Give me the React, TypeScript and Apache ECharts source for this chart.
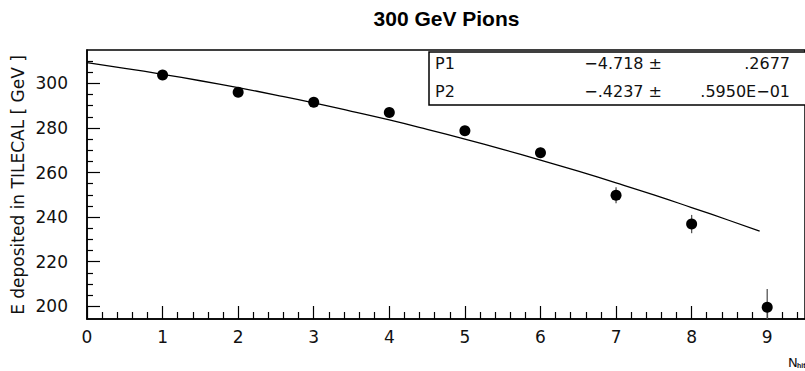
import React, { useEffect, useRef } from "react";
import * as echarts from "echarts";

// Measured points (N_hit, energy in GeV) and their errors
const pointX = [1, 2, 3, 4, 5, 6, 7, 8, 9];
const pointY = [303.8, 296.0, 291.6, 287.0, 278.8, 268.9, 249.8, 236.9, 199.6];
const pointErr = [1.6, 1.7, 1.8, 1.9, 2.0, 2.2, 3.6, 4.1, 8.2];

// Fitted curve
const fitX = [0, 0.5, 1, 1.5, 2, 2.5, 3, 3.5, 4, 4.5, 5, 5.5, 6, 6.5, 7, 7.5, 8, 8.5, 8.9];
const fitY = [309.3, 306.8, 304.1, 301.2, 298.1, 294.8, 291.3, 287.5, 283.6, 279.4, 275.0, 270.4, 265.6, 260.6, 255.4, 250.0, 244.3, 238.5, 233.7];

// Axis ticks
const xMajorTicks = [0, 1, 2, 3, 4, 5, 6, 7, 8, 9];
const xMinorTicks = [0.2, 0.4, 0.6, 0.8, 1.2, 1.4, 1.6, 1.8, 2.2, 2.4, 2.6, 2.8, 3.2, 3.4, 3.6, 3.8, 4.2, 4.4, 4.6, 4.8, 5.2, 5.4, 5.6, 5.8, 6.2, 6.4, 6.6, 6.8, 7.2, 7.4, 7.6, 7.8, 8.2, 8.4, 8.6, 8.8, 9.2, 9.4];
const yMajorTicks = [200, 220, 240, 260, 280, 300];
const yMinorTicks = [205, 210, 215, 225, 230, 235, 245, 250, 255, 265, 270, 275, 285, 290, 295, 305, 310];

const X_MIN = 0;
const X_MAX = 9.5;
const Y_MIN = 194.3;
const Y_MAX = 315;

// Fit parameters
const statNames = ["P1", "P2"];
const statValues = ["\u22124.718 \u00b1", "\u2212.4237 \u00b1"];
const statErrors = [".2677", ".5950E\u221201"];

const TITLE = "300 GeV Pions";
const Y_NAME = "E deposited in TILECAL [ GeV ]";

const NUM_FONT = "DejaVu Sans";

export default function App() {
  const ref = useRef<HTMLDivElement>(null);

  useEffect(() => {
    if (!ref.current) return;
    const chart = echarts.init(ref.current, undefined, { renderer: "svg" });

    const statGraphics: any[] = [];
    statNames.forEach((n, i) => {
      const cy = 63.5 + i * 28.3;
      statGraphics.push({
        type: "text", x: 435, y: cy,
        style: { text: n, font: `16px '${NUM_FONT}'`, fill: "#111", align: "left", verticalAlign: "middle" },
      });
      statGraphics.push({
        type: "text", x: 662, y: cy,
        style: { text: statValues[i], font: `16px '${NUM_FONT}'`, fill: "#111", align: "right", verticalAlign: "middle" },
      });
      statGraphics.push({
        type: "text", x: 790, y: cy,
        style: { text: statErrors[i], font: `16px '${NUM_FONT}'`, fill: "#111", align: "right", verticalAlign: "middle" },
      });
    });

    const option: any = {
      animation: false,
      backgroundColor: "#fff",
      grid: {
        left: 87, top: 50, width: 722, height: 269,
        show: true, borderColor: "#000", borderWidth: 1.5, backgroundColor: "transparent",
      },
      xAxis: [
        {
          type: "value", min: X_MIN, max: X_MAX, position: "bottom",
          axisLine: { show: true, lineStyle: { color: "#000", width: 1.5 } },
          axisTick: { show: true, inside: true, length: 13, customValues: xMajorTicks, lineStyle: { color: "#000", width: 1.2 } },
          axisLabel: { show: true, customValues: xMajorTicks, margin: 9, color: "#111", fontFamily: NUM_FONT, fontSize: 17 },
          splitLine: { show: false },
        },
        {
          type: "value", min: X_MIN, max: X_MAX, position: "bottom", gridIndex: 0,
          axisLine: { show: false },
          axisTick: { show: true, inside: true, length: 7, customValues: xMinorTicks, lineStyle: { color: "#000", width: 1.2 } },
          axisLabel: { show: false },
          splitLine: { show: false },
        },
      ],
      yAxis: [
        {
          type: "value", min: Y_MIN, max: Y_MAX, position: "left",
          axisLine: { show: true, lineStyle: { color: "#000", width: 1.5 } },
          axisTick: { show: true, inside: true, length: 13, customValues: yMajorTicks, lineStyle: { color: "#000", width: 1.2 } },
          axisLabel: { show: true, customValues: yMajorTicks, margin: 19, color: "#111", fontFamily: NUM_FONT, fontSize: 17 },
          splitLine: { show: false },
        },
        {
          type: "value", min: Y_MIN, max: Y_MAX, position: "left", gridIndex: 0,
          axisLine: { show: false },
          axisTick: { show: true, inside: true, length: 6, customValues: yMinorTicks, lineStyle: { color: "#000", width: 1.2 } },
          axisLabel: { show: false },
          splitLine: { show: false },
        },
      ],
      series: [
        {
          type: "line",
          xAxisIndex: 0, yAxisIndex: 0,
          data: fitX.map((x, i) => [x, fitY[i]]),
          smooth: true,
          showSymbol: false,
          lineStyle: { color: "#000", width: 1.3 },
          z: 2,
        },
        {
          type: "custom",
          xAxisIndex: 0, yAxisIndex: 0,
          data: pointX.map((x, i) => [x, pointY[i], pointErr[i]]),
          encode: { x: 0, y: 1 },
          renderItem: (params: any, api: any) => {
            const x = api.value(0);
            const y = api.value(1);
            const e = api.value(2);
            const lo = Math.max(y - e, Y_MIN);
            const hi = y + e;
            const p1 = api.coord([x, lo]);
            const p2 = api.coord([x, hi]);
            return {
              type: "line",
              shape: { x1: p1[0], y1: p1[1], x2: p2[0], y2: p2[1] },
              style: { stroke: "#555", lineWidth: 1.3 },
            };
          },
          z: 3,
        },
        {
          type: "scatter",
          xAxisIndex: 0, yAxisIndex: 0,
          data: pointX.map((x, i) => [x, pointY[i]]),
          symbol: "circle",
          symbolSize: 11,
          itemStyle: { color: "#000", opacity: 1 },
          z: 4,
        },
      ],
      graphic: [
        {
          type: "text", x: 446.5, y: 18.5,
          style: { text: TITLE, font: "bold 21px 'Liberation Sans'", fill: "#000", align: "center", verticalAlign: "middle" },
        },
        {
          type: "text", x: 17.5, y: 185, rotation: Math.PI / 2,
          style: { text: Y_NAME, font: `17px '${NUM_FONT}'`, fill: "#111", align: "center", verticalAlign: "middle" },
        },
        {
          type: "rect",
          shape: { x: 429, y: 52, width: 400, height: 53 },
          style: { fill: "#fff", stroke: "#000", lineWidth: 1.5 },
          z: 10,
        },
        ...statGraphics.map((g) => ({ ...g, z: 11 })),
        {
          type: "text", x: 788, y: 362,
          style: { text: "N", font: `13px '${NUM_FONT}'`, fill: "#111", align: "left", verticalAlign: "middle" },
        },
        {
          type: "text", x: 797, y: 365.5,
          style: { text: "hit", font: "bold 7px 'Liberation Sans'", fill: "#111", align: "left", verticalAlign: "middle" },
        },
      ],
    };

    chart.setOption(option);
    return () => chart.dispose();
  }, []);

  return (
    <div
      ref={ref}
      style={{ position: "fixed", left: 0, top: 0, width: 805, height: 371 }}
    />
  );
}
